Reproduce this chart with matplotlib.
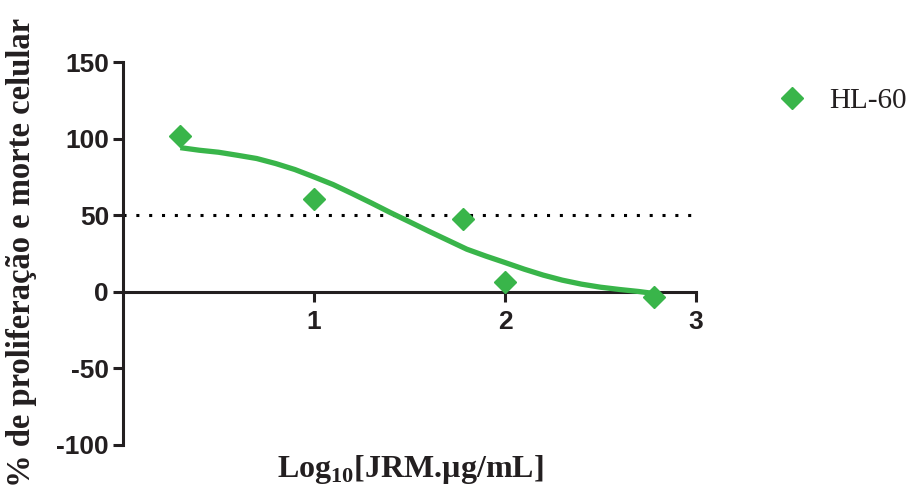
import numpy as np
import matplotlib
matplotlib.use("Agg")
import matplotlib.pyplot as plt

plt.rcParams['mathtext.fontset'] = 'custom'
plt.rcParams['mathtext.bf'] = 'Liberation Serif:bold'
plt.rcParams['mathtext.rm'] = 'Liberation Serif:bold'
plt.rcParams['axes.unicode_minus'] = False

# measured points (log10 concentration, % response)
log_conc = [0.301, 1.0, 1.778, 2.0, 2.778]
response = [101.5, 60.9, 47.4, 6.1, -3.5]

# fitted curve
curve_x = [0.30, 0.40, 0.50, 0.60, 0.70, 0.80, 0.90, 1.00, 1.10, 1.20, 1.30, 1.40,
           1.50, 1.60, 1.70, 1.80, 1.90, 2.00, 2.10, 2.20, 2.30, 2.40, 2.50, 2.60,
           2.70, 2.78]
curve_y = [94.1, 92.4, 91.1, 89.1, 87.0, 83.7, 79.8, 75.0, 70.0, 64.1, 58.0, 51.7,
           45.7, 39.6, 33.7, 27.8, 23.3, 19.1, 14.8, 10.9, 7.6, 5.0, 3.0, 1.5,
           0.2, -1.1]

x_ticks = [1, 2, 3]
y_ticks = [-100, -50, 0, 50, 100, 150]
green = '#39B54A'
ink = '#231F20'

fig = plt.figure(figsize=(9.22, 4.96), dpi=100)
ax = fig.add_axes([123 / 922, 1 - 445 / 496, (696 - 123) / 922, (445 - 62) / 496])

ax.plot([0, 3], [50, 50], color='black', linestyle=(0, (1, 3.2)), linewidth=2.2,
        clip_on=False, zorder=1)
ax.plot(curve_x, curve_y, color=green, linewidth=3.8, solid_capstyle='butt',
        solid_joinstyle='round', zorder=3, clip_on=False)
ax.plot(log_conc, response, linestyle='none', marker='D', markersize=11,
        color=green, zorder=4, clip_on=False, label='HL-60')

ax.set_xlim(0, 3)
ax.set_ylim(-100, 150)
ax.spines['top'].set_visible(False)
ax.spines['right'].set_visible(False)
ax.spines['bottom'].set_position(('data', 0))
for s in ('left', 'bottom'):
    ax.spines[s].set_linewidth(2.2)
    ax.spines[s].set_color(ink)

ax.set_xticks(x_ticks)
ax.set_yticks(y_ticks)
ax.tick_params(axis='both', direction='out', length=7, width=2.2, color=ink)
ax.tick_params(axis='x', pad=6)
ax.tick_params(axis='y', pad=3)
for lab in ax.get_xticklabels() + ax.get_yticklabels():
    lab.set_fontfamily('Liberation Sans')
    lab.set_fontweight('bold')
    lab.set_fontsize(19)
    lab.set_color(ink)

fig.text(22 / 922, 1 - 252 / 496, '% de proliferação e morte celular', rotation=90,
         ha='center', va='center', family='Liberation Serif', weight='bold',
         fontsize=23.5, color=ink)
fig.text(410 / 922, 1 - 470 / 496, r'Log$_{\mathbf{10}}$[JRM.µg/mL]', ha='center',
         va='center', family='Liberation Serif', weight='bold', fontsize=23,
         color=ink)

leg = fig.legend(loc='center left', bbox_to_anchor=(748 / 922, 1 - 101 / 496),
                 frameon=False, handletextpad=0.7, handlelength=1.2,
                 prop={'family': 'Liberation Serif', 'size': 21})
for t in leg.get_texts():
    t.set_color(ink)

fig.savefig('out.png', dpi=100)
